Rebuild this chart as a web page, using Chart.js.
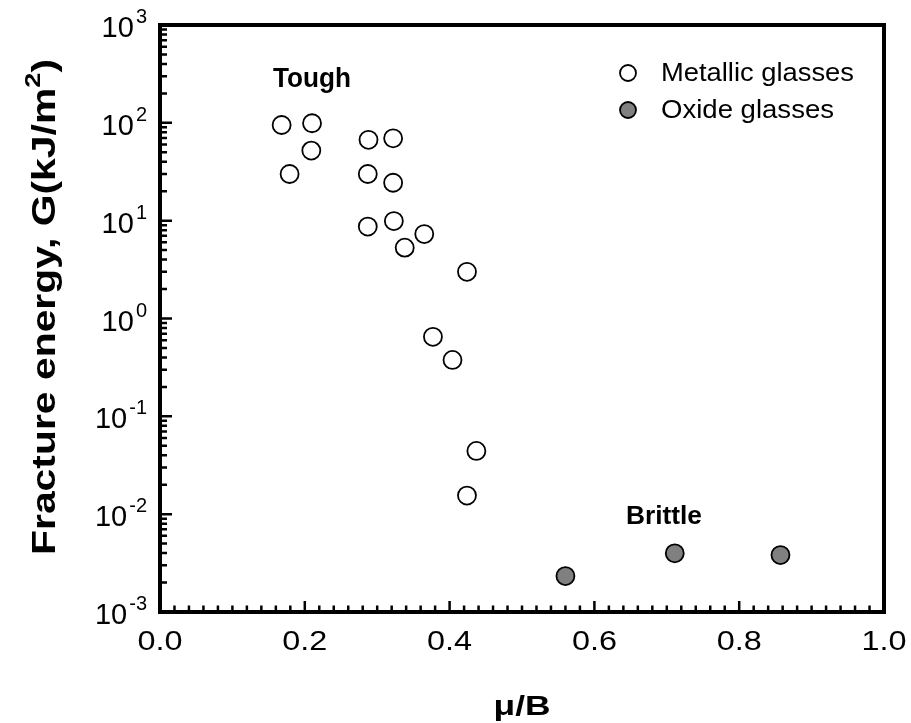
<!DOCTYPE html>
<html>
<head>
<meta charset="utf-8">
<script src="https://cdn.jsdelivr.net/npm/chart.js@4.4.1/dist/chart.umd.min.js"></script>
<style>
  html, body { margin: 0; padding: 0; background: #fff; }
  #wrap { width: 911px; height: 723px; }
</style>
</head>
<body>
<div id="wrap"><canvas id="chart" width="911" height="723"></canvas></div>
<script>
// values (mu/B vs fracture energy G in kJ/m^2)
const metallicX = [0.168, 0.210, 0.209, 0.179, 0.288, 0.322, 0.287, 0.322, 0.287, 0.323, 0.365, 0.338, 0.424, 0.377, 0.404, 0.437, 0.424];
const metallicG = [95, 99, 52, 30, 67, 69.5, 30, 24.4, 8.7, 9.9, 7.3, 5.3, 3.0, 0.65, 0.377, 0.0443, 0.0155];
const oxideX = [0.560, 0.711, 0.857];
const oxideG = [0.00233, 0.00398, 0.00382];

const seriesNames = ['Metallic glasses', 'Oxide glasses'];
const xTicks = [0, 0.2, 0.4, 0.6, 0.8, 1.0];
const yDecades = [-3, -2, -1, 0, 1, 2, 3];

const FONT = '"Liberation Sans", Arial, Helvetica, sans-serif';

function toPoints(xs, ys) {
    return xs.map((x, i) => ({ x: x, y: ys[i] }));
}

// draw text stretched to a given width (the original figure is a bit wide)
function fitText(ctx, text, x, y, width, align) {
    const w = ctx.measureText(text).width;
    ctx.save();
    ctx.translate(x, y);
    ctx.scale(width / w, 1);
    ctx.textAlign = align || 'left';
    ctx.fillText(text, 0, 0);
    ctx.restore();
}

const framePlugin = {
    id: 'frame',
    afterDraw(chart) {
        const ctx = chart.ctx;
        const a = chart.chartArea;
        const xs = chart.scales.x;
        const ys = chart.scales.y;
        ctx.save();
        ctx.strokeStyle = '#000';
        ctx.fillStyle = '#000';
        ctx.lineCap = 'butt';

        // inward ticks
        ctx.lineWidth = 2.5;
        ctx.beginPath();
        for (let i = 0; i <= 50; i++) {
            const v = i / 50;
            const px = xs.getPixelForValue(v);
            const len = xTicks.some(t => Math.abs(t - v) < 1e-9) ? 11 : 6.5;
            ctx.moveTo(px, a.bottom);
            ctx.lineTo(px, a.bottom - len);
        }
        yDecades.forEach(d => {
            for (let m = 1; m <= 9; m++) {
                if (d === 3 && m > 1) break;
                const py = ys.getPixelForValue(m * Math.pow(10, d));
                const len = m === 1 ? 12 : 7;
                ctx.moveTo(a.left, py);
                ctx.lineTo(a.left + len, py);
            }
        });
        ctx.stroke();

        // box
        ctx.lineWidth = 4;
        ctx.strokeRect(a.left, a.top, a.right - a.left, a.bottom - a.top);

        // x tick labels
        ctx.textBaseline = 'alphabetic';
        ctx.font = '27px ' + FONT;
        xTicks.forEach(v => {
            fitText(ctx, v.toFixed(1), xs.getPixelForValue(v), 650, 45, 'center');
        });

        // y tick labels 10^n
        yDecades.forEach(d => {
            const py = ys.getPixelForValue(Math.pow(10, d));
            const ex = d < 0 ? '-' + Math.abs(d) : String(d);
            ctx.font = '20px ' + FONT;
            ctx.textAlign = 'right';
            const ew = ctx.measureText(ex).width;
            ctx.fillText(ex, 147, py - 2);
            ctx.font = '29px ' + FONT;
            ctx.fillText('10', 147 - ew - 2, py + 12);
        });

        // y axis title, rotated
        ctx.save();
        ctx.translate(55, 307);
        ctx.rotate(-Math.PI / 2);
        ctx.textAlign = 'left';
        ctx.font = 'bold 33px ' + FONT;
        const p1 = 'Fracture energy, G(kJ/m';
        const p3 = ')';
        const w1 = ctx.measureText(p1).width;
        const w3 = ctx.measureText(p3).width;
        ctx.font = 'bold 22px ' + FONT;
        const w2 = ctx.measureText('2').width;
        const total = w1 + w2 + w3;
        ctx.scale(496 / total, 1);
        let cx = -total / 2;
        ctx.font = 'bold 33px ' + FONT;
        ctx.fillText(p1, cx, 0);
        cx += w1;
        ctx.font = 'bold 22px ' + FONT;
        ctx.fillText('2', cx, -15);
        cx += w2;
        ctx.font = 'bold 33px ' + FONT;
        ctx.fillText(p3, cx, 0);
        ctx.restore();

        // x axis title
        ctx.font = 'bold 28px ' + FONT;
        fitText(ctx, '\u03bc/B', (a.left + a.right) / 2, 715, 57, 'center');

        // annotations
        ctx.font = 'bold 28px ' + FONT;
        fitText(ctx, 'Tough', 273, 87, 78);
        ctx.font = 'bold 26px ' + FONT;
        fitText(ctx, 'Brittle', 626, 524, 76);

        // legend
        const rows = [
            { y: 73, base: 81, w: 193 },
            { y: 110, base: 118, w: 173 }
        ];
        chart.data.datasets.forEach((ds, i) => {
            const r = rows[i];
            ctx.beginPath();
            ctx.arc(628, r.y, 8, 0, Math.PI * 2);
            ctx.fillStyle = ds.backgroundColor;
            ctx.fill();
            ctx.lineWidth = 1.8;
            ctx.strokeStyle = '#000';
            ctx.stroke();
            ctx.fillStyle = '#000';
            ctx.font = '26px ' + FONT;
            fitText(ctx, ds.label, 661, r.base, r.w);
        });

        ctx.restore();
    }
};

const ctx = document.getElementById('chart').getContext('2d');
new Chart(ctx, {
    type: 'scatter',
    data: {
        datasets: [
            {
                label: seriesNames[0],
                data: toPoints(metallicX, metallicG),
                backgroundColor: '#ffffff',
                borderColor: '#000000',
                borderWidth: 1.8,
                pointRadius: 9,
                pointHoverRadius: 9
            },
            {
                label: seriesNames[1],
                data: toPoints(oxideX, oxideG),
                backgroundColor: '#808080',
                borderColor: '#000000',
                borderWidth: 1.8,
                pointRadius: 9,
                pointHoverRadius: 9
            }
        ]
    },
    options: {
        responsive: false,
        animation: false,
        layout: { padding: { top: 25, right: 27, left: 0, bottom: 0 } },
        scales: {
            x: {
                type: 'linear',
                min: 0,
                max: 1,
                afterFit: s => { s.height = 111; },
                ticks: { display: false },
                grid: { display: false },
                border: { display: false }
            },
            y: {
                type: 'logarithmic',
                min: 1e-3,
                max: 1e3,
                afterFit: s => { s.width = 160; },
                ticks: { display: false },
                grid: { display: false },
                border: { display: false }
            }
        },
        plugins: {
            legend: { display: false },
            tooltip: { enabled: false }
        }
    },
    plugins: [framePlugin]
});
</script>
</body>
</html>
